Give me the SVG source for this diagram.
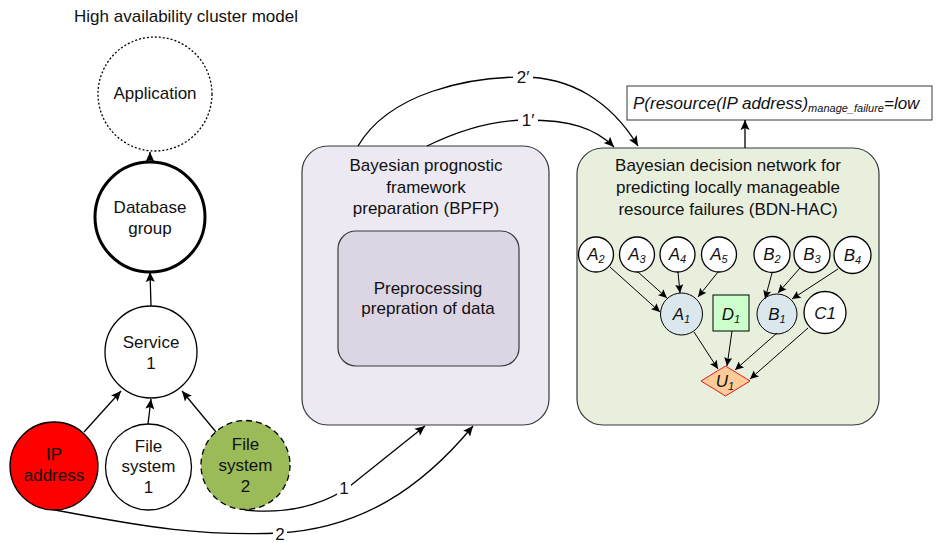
<svg xmlns="http://www.w3.org/2000/svg" width="937" height="543" viewBox="0 0 937 543">
<defs>
<marker id="ah" markerWidth="12" markerHeight="12" refX="11" refY="6" orient="auto" markerUnits="userSpaceOnUse">
<path d="M1,1.5 L11,6 L1,10.5 L3,6 Z" fill="#000"/>
</marker>
<marker id="as" markerWidth="10" markerHeight="10" refX="9" refY="5" orient="auto" markerUnits="userSpaceOnUse">
<path d="M0.5,1 L9,5 L0.5,9 L2,5 Z" fill="#000"/>
</marker>
<style>
text{font-family:"Liberation Sans",Arial,sans-serif;font-size:17px;fill:#111;text-anchor:middle}
.it{font-style:italic}
.sub{font-size:11px}
.edge{fill:none;stroke:#000;stroke-width:1.3;marker-end:url(#ah)}
.bn{fill:none;stroke:#000;stroke-width:1;marker-end:url(#as)}
.node{fill:#fff;stroke:#000;stroke-width:1.3}
.lbl{fill:#fff}
</style>
</defs>

<text x="186" y="22">High availability cluster model</text>

<g id="application">
<circle cx="155" cy="94" r="57" fill="#fff" stroke="#000" stroke-width="1.3" stroke-dasharray="2,2"/>
<text x="155" y="99">Application</text>
</g>
<g id="database-group">
<circle cx="150" cy="217" r="55" fill="#fff" stroke="#000" stroke-width="3"/>
<text x="150" y="213">Database</text>
<text x="150" y="234">group</text>
</g>
<g id="service-1">
<circle cx="151" cy="352" r="46" class="node"/>
<text x="151" y="348">Service</text>
<text x="151" y="369">1</text>
</g>
<g id="ip-address">
<circle cx="54" cy="466" r="44" fill="#ff0000" stroke="#000" stroke-width="1.3"/>
<text x="54" y="460">IP</text>
<text x="54" y="481">address</text>
</g>
<g id="file-system-1">
<circle cx="148.5" cy="467" r="43" class="node"/>
<text x="148.5" y="452">File</text>
<text x="148.5" y="472">system</text>
<text x="148.5" y="493">1</text>
</g>
<g id="file-system-2">
<circle cx="245.5" cy="465" r="44.5" fill="#9bbb59" stroke="#000" stroke-width="1.3" stroke-dasharray="6,4"/>
<text x="245.5" y="450">File</text>
<text x="245.5" y="471">system</text>
<text x="245.5" y="492">2</text>
</g>

<g id="bpfp">
<rect x="302" y="146" width="247" height="279" rx="26" fill="#ece9f2" stroke="#36393d" stroke-width="1.2"/>
<text x="426" y="171">Bayesian prognostic</text>
<text x="426" y="193">framework</text>
<text x="426" y="214">preparation (BPFP)</text>
</g>
<g id="preprocessing">
<rect x="338" y="231" width="181" height="135" rx="18" fill="#dcd6e4" stroke="#36393d" stroke-width="1.2"/>
<text x="428" y="294">Preprocessing</text>
<text x="428" y="314">prepration of data</text>
</g>

<g id="bdn-hac">
<rect x="577" y="148" width="302" height="277" rx="26" fill="#e9efdd" stroke="#36393d" stroke-width="1.2"/>
<text x="728" y="171">Bayesian decision network for</text>
<text x="728" y="193">predicting locally manageable</text>
<text x="728" y="215">resource failures (BDN-HAC)</text>
</g>

<g id="p-result">
<rect x="627" y="86" width="305" height="34" fill="#fff" stroke="#36393d" stroke-width="1"/>
<text x="633" y="109" class="it" style="text-anchor:start">P(resource(IP address)<tspan class="sub" dy="3">manage_failure</tspan><tspan dy="-3">=low</tspan></text>
</g>

<g id="A2"><circle cx="596" cy="254.5" r="17.5" class="node" stroke-width="1"/><text x="596" y="260" class="it">A<tspan class="sub" dy="3">2</tspan></text></g>
<g id="A3"><circle cx="637" cy="254.5" r="17.5" class="node" stroke-width="1"/><text x="637" y="260" class="it">A<tspan class="sub" dy="3">3</tspan></text></g>
<g id="A4"><circle cx="677.5" cy="254.5" r="17.5" class="node" stroke-width="1"/><text x="677.5" y="260" class="it">A<tspan class="sub" dy="3">4</tspan></text></g>
<g id="A5"><circle cx="719" cy="254.5" r="17.5" class="node" stroke-width="1"/><text x="719" y="260" class="it">A<tspan class="sub" dy="3">5</tspan></text></g>
<g id="B2"><circle cx="772" cy="254.5" r="18" class="node" stroke-width="1"/><text x="772" y="260" class="it">B<tspan class="sub" dy="3">2</tspan></text></g>
<g id="B3"><circle cx="812" cy="254.5" r="18" class="node" stroke-width="1"/><text x="812" y="260" class="it">B<tspan class="sub" dy="3">3</tspan></text></g>
<g id="B4"><circle cx="852.5" cy="255" r="18.5" class="node" stroke-width="1"/><text x="852.5" y="261" class="it">B<tspan class="sub" dy="3">4</tspan></text></g>
<g id="A1"><circle cx="681.5" cy="314" r="21" fill="#dae8ee" stroke="#000" stroke-width="1"/><text x="681.5" y="320" class="it">A<tspan class="sub" dy="3">1</tspan></text></g>
<g id="D1"><rect x="713" y="295" width="36" height="36" fill="#ccffcc" stroke="#000" stroke-width="1"/><text x="731" y="320" class="it">D<tspan class="sub" dy="3">1</tspan></text></g>
<g id="B1"><circle cx="777" cy="314" r="20" fill="#dae8ee" stroke="#000" stroke-width="1"/><text x="777" y="320" class="it">B<tspan class="sub" dy="3">1</tspan></text></g>
<g id="C1"><circle cx="825" cy="312.5" r="21" class="node" stroke-width="1"/><text x="825" y="318.5" class="it">C1</text></g>
<g id="U1"><path d="M701,381 L725.5,366 L750,381 L725.5,396 Z" fill="#ffcc99" stroke="#e31a1c" stroke-width="1"/><text x="725" y="387" class="it">U<tspan class="sub" dy="3">1</tspan></text></g>

<g id="connectors">
<line x1="150" y1="162" x2="150" y2="152" class="edge"/>
<line x1="151" y1="306" x2="150" y2="272" class="edge"/>
<line x1="84" y1="432" x2="121" y2="391" class="edge"/>
<line x1="148" y1="424" x2="151" y2="399" class="edge"/>
<line x1="216" y1="432" x2="182" y2="391" class="edge"/>
<line x1="745" y1="148" x2="745" y2="120" class="edge"/>

<path d="M245,510 C300,516 335,497 350,486 L425,426" class="edge"/>
<path d="M55,510 C150,528 200,536 280,533 C360,528 420,490 473,426" class="edge"/>
<path d="M427,146 C470,125 505,120 527,120 C570,120 595,128 614,147" class="edge"/>
<path d="M358,146 C390,92 470,77 522,77 C570,77 610,100 638,146" class="edge"/>

<rect x="337" y="479" width="14" height="18" class="lbl"/>
<text x="344" y="494">1</text>
<rect x="273" y="525" width="14" height="18" class="lbl"/>
<text x="280" y="540">2</text>
<rect x="518" y="111" width="20" height="18" class="lbl"/>
<text x="528" y="126">1′</text>
<rect x="513" y="68" width="20" height="18" class="lbl"/>
<text x="523" y="83">2′</text>

<line x1="610" y1="267" x2="660" y2="312" class="bn"/>
<line x1="638" y1="272" x2="667" y2="298" class="bn"/>
<line x1="678" y1="272" x2="680" y2="293" class="bn"/>
<line x1="718" y1="272" x2="698" y2="297" class="bn"/>
<line x1="772" y1="273" x2="765" y2="299" class="bn"/>
<line x1="800" y1="268" x2="778" y2="293" class="bn"/>
<line x1="838" y1="269" x2="792" y2="299" class="bn"/>
<line x1="694" y1="332" x2="718" y2="369" class="bn"/>
<line x1="732" y1="331" x2="727" y2="366" class="bn"/>
<line x1="777" y1="333" x2="735" y2="370" class="bn"/>
<line x1="808" y1="328" x2="750" y2="379" class="bn"/>
</g>
</svg>
